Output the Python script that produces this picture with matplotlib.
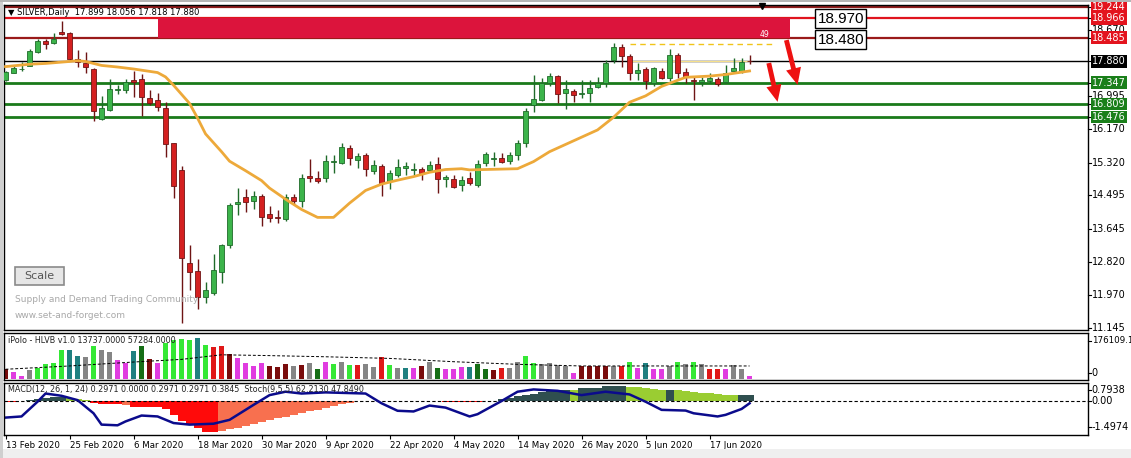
import matplotlib
matplotlib.use("Agg")
import matplotlib.pyplot as plt
from matplotlib.patches import Rectangle

W, H = 1131, 458
LEFT, RIGHT = 4, 1088   # pixel edges of the chart panels

# ---- daily candles, 13 Feb 2020 .. 24 Jun 2020 ----
opens = [17.40, 17.60, 17.68, 17.77, 18.13, 18.40, 18.34, 18.63, 18.60, 17.94,
         17.85, 17.69, 16.43, 16.65, 17.16, 17.16, 17.41, 17.43, 16.96, 16.91,
         16.70, 15.81, 15.14, 12.79, 12.58, 11.93, 12.04, 12.57, 13.24, 14.29,
         14.46, 14.35, 14.48, 14.02, 13.95, 13.89, 14.46, 14.36, 14.98, 14.94,
         14.93, 15.33, 15.31, 15.69, 15.39, 15.52, 15.11, 15.24, 14.86, 15.01,
         15.20, 15.14, 15.17, 15.14, 15.29, 14.92, 14.92, 14.75, 14.93, 14.76,
         15.31, 15.42, 15.45, 15.36, 15.52, 15.83, 16.78, 16.91, 17.34, 17.51,
         17.08, 17.13, 17.06, 17.08, 17.23, 17.34, 17.92, 18.25, 18.02, 17.58,
         17.68, 17.33, 17.64, 17.45, 18.04, 17.61, 17.41, 17.36, 17.39, 17.43,
         17.35, 17.65, 17.62, 17.899]
highs = [17.65, 17.79, 17.87, 18.20, 18.45, 18.44, 18.60, 18.90, 18.62, 18.17,
         18.11, 17.71, 17.01, 17.43, 17.29, 17.43, 17.65, 17.56, 17.16, 17.08,
         16.86, 15.83, 15.24, 13.24, 12.90, 12.31, 13.01, 13.27, 14.31, 14.67,
         14.65, 14.61, 14.52, 14.23, 14.13, 14.53, 14.53, 15.04, 15.41, 15.12,
         15.52, 15.52, 15.83, 15.77, 15.57, 15.57, 15.39, 15.29, 15.14, 15.41,
         15.35, 15.31, 15.22, 15.36, 15.46, 15.01, 15.01, 14.98, 15.09, 15.39,
         15.60, 15.60, 15.57, 15.60, 15.90, 16.70, 17.54, 17.45, 17.60, 17.53,
         17.41, 17.18, 17.41, 17.41, 17.49, 17.92, 18.34, 18.32, 18.06, 17.83,
         17.75, 17.75, 17.71, 18.19, 18.10, 17.71, 17.49, 17.48, 17.58, 17.49,
         17.79, 17.98, 17.98, 18.056]
lows = [17.38, 17.58, 17.65, 17.76, 18.10, 18.19, 18.32, 18.56, 17.92, 17.75,
        17.58, 16.38, 16.40, 16.63, 17.06, 17.09, 16.99, 16.51, 16.78, 16.64,
        15.47, 14.42, 11.26, 12.10, 11.62, 11.77, 11.98, 12.27, 13.16, 14.00,
        14.08, 14.14, 13.73, 13.83, 13.79, 13.86, 14.25, 14.21, 14.84, 14.80,
        14.84, 15.07, 15.28, 15.26, 15.18, 14.98, 15.04, 14.49, 14.65, 14.95,
        15.01, 15.01, 14.88, 15.09, 14.56, 14.71, 14.67, 14.61, 14.76, 14.71,
        15.24, 15.24, 15.31, 15.28, 15.39, 15.73, 16.61, 16.88, 17.26, 16.84,
        16.67, 16.86, 16.95, 16.86, 17.20, 17.24, 17.83, 17.73, 17.41, 17.41,
        17.18, 17.26, 17.43, 17.39, 17.45, 17.33, 16.91, 17.26, 17.34, 17.26,
        17.33, 17.62, 17.60, 17.818]
closes = [17.62, 17.72, 17.70, 18.14, 18.40, 18.31, 18.45, 18.58, 17.94, 17.87,
          17.73, 16.64, 16.70, 17.18, 17.19, 17.36, 17.35, 16.97, 16.82, 16.72,
          15.79, 14.73, 12.91, 12.57, 11.93, 12.10, 12.61, 13.24, 14.25, 14.33,
          14.34, 14.47, 13.96, 13.93, 13.92, 14.45, 14.36, 14.93, 14.93, 14.87,
          15.36, 15.36, 15.71, 15.43, 15.49, 15.15, 15.26, 14.82, 15.05, 15.22,
          15.23, 15.17, 15.07, 15.26, 14.90, 14.95, 14.71, 14.88, 14.80, 15.29,
          15.53, 15.44, 15.35, 15.52, 15.83, 16.63, 16.92, 17.34, 17.51, 17.05,
          17.18, 17.03, 17.09, 17.20, 17.34, 17.85, 18.25, 18.02, 17.58, 17.66,
          17.39, 17.71, 17.47, 18.04, 17.60, 17.49, 17.38, 17.41, 17.45, 17.31,
          17.58, 17.72, 17.86, 17.880]

# orange moving average, sampled along the drawn line
ma_bars = [0, 3, 5, 8, 9, 10, 12, 14, 16, 18, 19, 20, 21, 22, 23, 24, 25, 27, 28,
           30, 32, 33, 35, 37, 39, 41, 43, 45, 47, 49, 51, 53, 55, 57, 58, 64,
           66, 68, 74, 76, 78, 80, 82, 85, 88, 90, 93]
ma_vals = [17.75, 17.81, 17.83, 17.88, 17.90, 17.88, 17.78, 17.74, 17.69, 17.63,
           17.60, 17.49, 17.28, 17.05, 16.82, 16.45, 16.05, 15.60, 15.36, 15.12,
           14.87, 14.68, 14.40, 14.14, 13.94, 13.94, 14.30, 14.62, 14.78, 14.88,
           14.97, 15.08, 15.15, 15.17, 15.14, 15.17, 15.35, 15.60, 16.15, 16.47,
           16.85, 17.01, 17.25, 17.48, 17.51, 17.55, 17.64]

# iPolo HLVB volume bars and colour codes
volumes = [39100, 28700, 10400, 35200, 45700, 58700, 65200, 114800, 114800, 91300,
           87400, 130500, 114800, 107000, 75700, 62600, 110900, 133100, 80900, 62600,
           143500, 156500, 160500, 153900, 163100, 134400, 127800, 130500, 100400, 84800,
           65200, 52200, 62600, 52200, 49600, 58700, 52200, 54800, 62600, 41700,
           67800, 58700, 67800, 54800, 54800, 58700, 49600, 87400, 54800, 45700,
           45700, 45700, 52200, 67800, 45700, 39100, 39100, 49600, 49600, 58700,
           39100, 35200, 45700, 45700, 67800, 91300, 62600, 58700, 62600, 54800,
           52200, 26100, 52200, 52200, 52200, 52200, 52200, 52200, 69100, 45700,
           65200, 41700, 41700, 52200, 69100, 58700, 69100, 58700, 41700, 41700,
           39100, 54800, 41700, 10400]
vol_codes = ("kmmglllltt" "glggmmtdkm" "lllltlrrkm" "mmmkkkgkgd"
             "mlglrggrlg" "tmkgdmmmtd" "dkrggllggg" "gmkkkkgrlm"
             "tmmglglgrr" "mggm")
vol_ma_bars = [0, 8, 16, 22, 27, 32, 40, 48, 56, 64, 72, 93]
vol_ma_vals = [39100, 52200, 67800, 78300, 96500, 93900, 88700, 82200, 69100,
               58700, 52200, 52200]

# MACD histogram and its colour codes (r red, s salmon, d dark slate, y yellow-green)
macd_hist = [-0.03, -0.03, -0.01, 0.05, 0.10, 0.13, 0.16, 0.19, 0.15, 0.10,
             0.05, -0.10, -0.12, -0.13, -0.15, -0.17, -0.25, -0.25, -0.26, -0.28,
             -0.35, -0.60, -0.90, -1.05, -1.20, -1.36, -1.36, -1.33, -1.25, -1.17,
             -1.09, -1.01, -0.93, -0.85, -0.77, -0.69, -0.61, -0.53, -0.46, -0.38,
             -0.30, -0.22, -0.15, -0.07, -0.02, -0.005, -0.005, -0.005, -0.005, -0.005,
             -0.005, -0.005, -0.005, -0.005, -0.005, -0.04, -0.04, -0.04, -0.04, -0.04,
             0.0, 0.02, 0.08, 0.15, 0.20, 0.26, 0.33, 0.40, 0.50, 0.50,
             0.50, 0.48, 0.58, 0.58, 0.58, 0.65, 0.65, 0.65, 0.63, 0.60,
             0.57, 0.53, 0.50, 0.50, 0.47, 0.44, 0.40, 0.37, 0.34, 0.31,
             0.28, 0.26, 0.26, 0.26]
macd_codes = ("rrrdddddyy" "yrrrrsrrrr" "rrrrrrrsss" "ssssssssss"
              "sssssrrrrr" "rrrrrrrrrr" "rddddddddd" "dyddddddyy"
              "yyydyyyyyy" "yydd")
stoch_bars = [0, 2, 4, 5, 7, 9, 11, 12, 14, 15, 17, 19, 21, 23, 26, 28, 31, 33,
              35, 37, 40, 42, 45, 47, 49, 51, 53, 55, 58, 59, 62, 64, 66, 69, 72,
              75, 78, 80, 82, 85, 86, 89, 90, 92, 93]
stoch_vals = [-0.73, -0.68, -0.03, 0.33, 0.23, 0.04, -0.54, -1.04, -1.07, -0.90,
              -0.64, -0.68, -0.97, -1.04, -1.00, -0.83, -0.17, 0.26, 0.41, 0.33,
              0.38, 0.36, 0.33, -0.10, -0.43, -0.46, -0.20, -0.29, -0.68, -0.58,
              0.0, 0.41, 0.51, 0.45, 0.26, 0.41, 0.29, -0.03, -0.39, -0.42,
              -0.54, -0.68, -0.61, -0.35, -0.10]

date_ticks = [0, 8, 16, 24, 32, 40, 48, 56, 64, 72, 80, 88]
date_labels = ["13 Feb 2020", "25 Feb 2020", "6 Mar 2020", "18 Mar 2020",
               "30 Mar 2020", "9 Apr 2020", "22 Apr 2020", "4 May 2020",
               "14 May 2020", "26 May 2020", "5 Jun 2020", "17 Jun 2020"]
# 18.670 and 16.995 sit half hidden behind the coloured level labels
price_ticks = [18.670, 16.995, 16.170, 15.320, 14.495, 13.645, 12.820,
               11.970, 11.145]
res_levels = [19.244, 18.966, 18.485]
sup_levels = [17.347, 16.809, 16.476]
last_price = 17.880
zone_top, zone_bottom = 18.970, 18.480
zone_start, zone_end = 19.1, 98.1
title = "\u25bc SILVER,Daily  17.899 18.056 17.818 17.880"

plt.rcParams['font.family'] = 'DejaVu Sans'
fig = plt.figure(figsize=(W / 100, H / 100), dpi=100)
fig.patch.set_facecolor('white')


def panel(top, bottom):
    a = fig.add_axes([LEFT / W, 1 - bottom / H, (RIGHT - LEFT) / W, (bottom - top) / H])
    a.set_xlim(-0.19, 135.3)
    a.set_xticks([])
    a.set_yticks([])
    for s in a.spines.values():
        s.set_linewidth(1)
    return a


def right_label(a, y, txt, bg=None, data=True, size=7):
    tr = a.get_yaxis_transform() if data else a.transAxes
    a.plot([1.0, 1.003], [y, y], color='black', lw=0.8, transform=tr, clip_on=False)
    if bg is None:
        a.text(1.0035, y, txt, transform=tr, ha='left', va='center', fontsize=size, zorder=6)
    else:
        a.text(1.0035, y, txt, transform=tr, ha='left', va='center', fontsize=size,
               color='white', zorder=7,
               bbox=dict(boxstyle='square,pad=0.12', fc=bg, ec='none'))


# ---------- price panel ----------
ax = panel(5, 330)
ax.set_ylim(11.094, 19.307)
n = len(closes)
idx = list(range(n))

for lv, col in zip(res_levels, ['#8e1b1b', '#e0141e', '#9a1a1a']):
    ax.axhline(lv, color=col, lw=1.6, zorder=2)
for lv in sup_levels:
    ax.axhline(lv, color='#1a7a1a', lw=2, zorder=2)
ax.axhline(last_price, color='black', lw=1, zorder=2)
ax.add_patch(Rectangle((zone_start, zone_bottom), zone_end - zone_start,
                       zone_top - zone_bottom, fc='#dc143c', ec='none', zorder=3))
ax.text(94.9, 18.57, "49", color='white', fontsize=5.5, ha='center', va='center', zorder=4)
ax.hlines(18.32, 78, 96, colors='#f0c419', linestyles=(0, (4, 3)), lw=1, zorder=3)
ax.hlines(17.90, 78, 93, colors='#f6e08c', lw=0.8, zorder=3)

for i in idx:
    o, h, l, c = opens[i], highs[i], lows[i], closes[i]
    up = c >= o
    body = '#3cb44b' if up else '#d42020'
    edge = '#1f6b2a' if up else '#6e1414'
    ax.vlines(i, l, h, color=edge, lw=1, zorder=4)
    ax.bar(i, max(abs(c - o), 0.02), bottom=min(o, c), width=0.62, color=body,
           edgecolor=edge, lw=0.6, zorder=5)

ax.plot(ma_bars, ma_vals, color='#eda93a', lw=2, zorder=6)

arrow = dict(facecolor='#ee1111', edgecolor='none', width=3.5, headwidth=11,
             headlength=12, shrink=0)
ax.annotate('', xy=(99.0, 17.29), xytext=(97.6, 18.42), arrowprops=arrow, zorder=8)
ax.annotate('', xy=(96.5, 16.86), xytext=(95.4, 17.84), arrowprops=arrow, zorder=8)

box = dict(boxstyle='square,pad=0.15', fc='white', ec='black', lw=1)
ax.text(104.4, 18.96, "18.970", fontsize=11, family='Liberation Sans', ha='center',
        va='center', bbox=box, zorder=8)
ax.text(104.4, 18.435, "18.480", fontsize=11, family='Liberation Sans', ha='center',
        va='center', bbox=box, zorder=8)
ax.plot([94.6], [19.28], marker='v', color='black', ms=5, clip_on=False, zorder=9)

ax.text(0.004, 0.976, title, transform=ax.transAxes, fontsize=6, va='center', zorder=9)


def ax_frac(px, py):
    return (px - LEFT) / (RIGHT - LEFT), (330 - py) / 325


bx, by = ax_frac(15, 285)
bw = 49 / (RIGHT - LEFT)
bh = 18 / 325
ax.add_patch(Rectangle((bx, by), bw, bh, transform=ax.transAxes, fc='#e6e6e6',
                       ec='#8a8a8a', lw=1.2, zorder=9))
tx, ty = ax_frac(39.5, 276)
ax.text(tx, ty, "Scale", transform=ax.transAxes, fontsize=8, color='#555555',
        ha='center', va='center', zorder=10)
for py, txt in [(299, "Supply and Demand Trading Community"), (315, "www.set-and-forget.com")]:
    tx, ty = ax_frac(15, py)
    ax.text(tx, ty, txt, transform=ax.transAxes, fontsize=6.5, color='#a8a8a8',
            va='center', zorder=9)

for p in price_ticks:
    right_label(ax, p, f"{p:.3f}")
for lv in res_levels:
    right_label(ax, lv, f"{lv:.3f}", bg='#e3141e')
right_label(ax, last_price, f"{last_price:.3f}", bg='black')
for lv in sup_levels:
    right_label(ax, lv, f"{lv:.3f}", bg='#1a7f1a')

# ---------- volume panel ----------
axv = panel(333, 380)
axv.set_ylim(-3500, 183000)
vcols = {'l': '#35e835', 't': '#1f8080', 'g': '#858585', 'm': '#e03ce0',
         'k': '#7a0c0c', 'r': '#e01818', 'd': '#166e16'}
axv.bar(idx, volumes, width=0.68, color=[vcols[c] for c in vol_codes], lw=0)
axv.plot(vol_ma_bars, vol_ma_vals, color='black', lw=0.7, ls=(0, (3, 2)))
axv.text(0.004, 0.83, "iPolo - HLVB v1.0 13737.0000 57284.0000", transform=axv.transAxes,
         fontsize=5.8, va='center', color='#222222')
right_label(axv, 0.83, "176109.1", data=False, size=6.3)
right_label(axv, 0.15, "0", data=False)

# ---------- MACD panel ----------
axm = panel(383, 435)
axm.set_ylim(-1.4974, 0.7938)
mcols = {'r': '#ff0a0a', 's': '#f8704f', 'd': '#2f4f4f', 'y': '#9acd32'}
axm.bar(idx, macd_hist, width=1.0, color=[mcols[c] for c in macd_codes], lw=0)
axm.axhline(0, color='black', lw=0.8, ls=(0, (3, 2)))
axm.plot(stoch_bars, stoch_vals, color='#0b0b8c', lw=1.8)
axm.text(0.004, 0.87, "MACD(12, 26, 1, 24) 0.2971 0.0000 0.2971 0.2971 0.3845  "
         "Stoch(9,5,5) 62.2130 47.8490", transform=axm.transAxes, fontsize=5.8,
         va='center', color='#222222')
right_label(axm, 0.865, "0.7938", data=False)
right_label(axm, 0.0, "0.00")
right_label(axm, 0.154, "-1.4974", data=False)
axm.set_xticks(date_ticks)
axm.set_xticklabels(date_labels, fontsize=6.2, ha='left')
axm.tick_params(axis='x', length=3, width=0.8, pad=1.5)

# window frame
fig.add_artist(Rectangle((0, 0), 1, 9 / H, transform=fig.transFigure, fc='#efefef', ec='none'))
fig.add_artist(Rectangle((0, 0), 3 / W, 1, transform=fig.transFigure, fc='#cfcfcf', ec='none'))
fig.add_artist(Rectangle((0, 1 - 2 / H), 1, 2 / H, transform=fig.transFigure, fc='#b5b5b5', ec='none'))

fig.savefig("out.png", dpi=100)
